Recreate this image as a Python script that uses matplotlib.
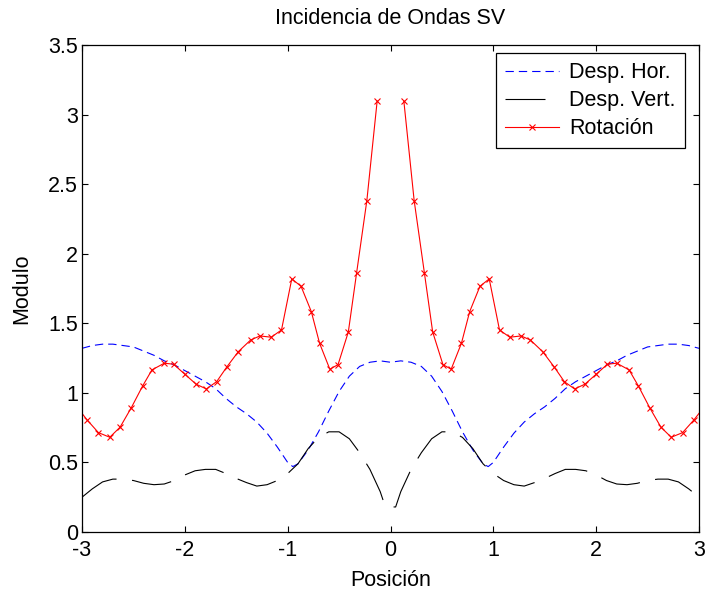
import numpy as np
import matplotlib
matplotlib.use("Agg")
import matplotlib.pyplot as plt

# Desp. Hor. (blue dashed)
x_hor = [-3.0, -2.9, -2.8, -2.7, -2.6, -2.5, -2.4, -2.3, -2.2, -2.1, -2.0,
         -1.9, -1.8, -1.7, -1.6, -1.5, -1.4, -1.3, -1.2, -1.1, -1.0, -0.95,
         -0.9, -0.8, -0.7, -0.6, -0.5, -0.4, -0.3, -0.2, -0.1, 0.0,
         0.1, 0.2, 0.3, 0.4, 0.5, 0.6, 0.7, 0.8, 0.9, 0.95, 1.0, 1.1, 1.2,
         1.3, 1.4, 1.5, 1.6, 1.7, 1.8, 1.9, 2.0, 2.1, 2.2, 2.3, 2.4, 2.5,
         2.6, 2.7, 2.8, 2.9, 3.0]
y_hor = [1.32, 1.34, 1.35, 1.35, 1.34, 1.33, 1.30, 1.27, 1.23, 1.20, 1.16,
         1.12, 1.08, 1.03, 0.96, 0.90, 0.85, 0.79, 0.71, 0.61, 0.50, 0.47,
         0.49, 0.59, 0.72, 0.87, 1.01, 1.12, 1.19, 1.22, 1.23, 1.22,
         1.23, 1.22, 1.19, 1.12, 1.01, 0.87, 0.72, 0.59, 0.49, 0.47, 0.50,
         0.61, 0.71, 0.79, 0.85, 0.90, 0.96, 1.03, 1.08, 1.12, 1.16, 1.20,
         1.23, 1.27, 1.30, 1.33, 1.34, 1.35, 1.35, 1.34, 1.32]

# Desp. Vert. (black long dash)
x_ver = [-3.0, -2.9, -2.8, -2.7, -2.6, -2.5, -2.4, -2.3, -2.2, -2.1, -2.0,
         -1.9, -1.8, -1.7, -1.6, -1.5, -1.4, -1.3, -1.2, -1.1, -1.0, -0.9,
         -0.8, -0.7, -0.6, -0.5, -0.4, -0.3, -0.2, -0.1, -0.05,
         0.05, 0.1, 0.2, 0.3, 0.4, 0.5, 0.6, 0.7, 0.8, 0.9, 1.0, 1.1, 1.2,
         1.3, 1.4, 1.5, 1.6, 1.7, 1.8, 1.9, 2.0, 2.1, 2.2, 2.3, 2.4, 2.5,
         2.6, 2.7, 2.8, 2.9, 3.0]
y_ver = [0.25, 0.31, 0.36, 0.38, 0.38, 0.37, 0.35, 0.34, 0.345, 0.37, 0.41,
         0.44, 0.45, 0.45, 0.42, 0.385, 0.355, 0.33, 0.34, 0.37, 0.42, 0.49,
         0.60, 0.68, 0.72, 0.72, 0.67, 0.57, 0.45, 0.29, 0.18,
         0.18, 0.29, 0.45, 0.57, 0.67, 0.72, 0.72, 0.68, 0.60, 0.49, 0.42,
         0.37, 0.34, 0.33, 0.355, 0.385, 0.42, 0.45, 0.45, 0.44, 0.41, 0.37,
         0.345, 0.34, 0.35, 0.37, 0.38, 0.38, 0.36, 0.31, 0.25]

# Rotacion (red with x markers), gap at the centre
x_rot = [-3.05, -2.95, -2.84, -2.73, -2.63, -2.52, -2.41, -2.32, -2.20, -2.11,
         -2.00, -1.89, -1.79, -1.69, -1.59, -1.48, -1.36, -1.27, -1.16,
         -1.06, -0.96, -0.87, -0.77, -0.69, -0.59, -0.51, -0.41, -0.33,
         -0.23, -0.13, 0.0,
         0.13, 0.23, 0.33, 0.41, 0.51, 0.59, 0.69, 0.77, 0.87, 0.96, 1.06,
         1.16, 1.27, 1.36, 1.48, 1.59, 1.69, 1.79, 1.89, 2.00, 2.11, 2.20,
         2.32, 2.41, 2.52, 2.63, 2.73, 2.84, 2.95, 3.05]
y_rot = [0.90, 0.805, 0.714, 0.681, 0.753, 0.894, 1.050, 1.165, 1.213, 1.206,
         1.134, 1.062, 1.028, 1.081, 1.188, 1.296, 1.380, 1.409, 1.400,
         1.452, 1.819, 1.766, 1.584, 1.357, 1.170, 1.203, 1.438, 1.860,
         2.382, 3.096, np.nan,
         3.096, 2.382, 1.860, 1.438, 1.203, 1.170, 1.357, 1.584, 1.766,
         1.819, 1.452, 1.400, 1.409, 1.380, 1.296, 1.188, 1.081, 1.028,
         1.062, 1.134, 1.206, 1.213, 1.165, 1.050, 0.894, 0.753, 0.681,
         0.714, 0.805, 0.90]

y_ticks = [0, 0.5, 1, 1.5, 2, 2.5, 3, 3.5]
y_tick_labels = ["0", "0.5", "1", "1.5", "2", "2.5", "3", "3.5"]
x_ticks = [-3, -2, -1, 0, 1, 2, 3]
x_tick_labels = ["-3", "-2", "-1", "0", "1", "2", "3"]

plt.rcParams['font.family'] = ['Liberation Sans', 'DejaVu Sans']
fs = 15.5

fig = plt.figure(figsize=(7.22, 5.92), dpi=100)
ax = fig.add_axes([82 / 722, 60 / 592, 617 / 722, 487 / 592])

ax.plot(x_hor, y_hor, color="blue", lw=0.8, dashes=(7.5, 4.5),
        label="Desp. Hor.")
ax.plot(x_ver, y_ver, color="black", lw=0.8, dashes=(36, 14),
        label="Desp. Vert.")
ax.plot(x_rot, y_rot, color="red", lw=0.8, marker="x", markersize=5,
        markeredgewidth=0.8, label="Rotación")

ax.set_xlim(-3, 3)
ax.set_ylim(0, 3.5)
ax.set_xticks(x_ticks)
ax.set_xticklabels(x_tick_labels)
ax.set_yticks(y_ticks)
ax.set_yticklabels(y_tick_labels)
ax.tick_params(direction="in", length=4.5, width=0.8, top=True, right=True,
               labelsize=fs)
ax.tick_params(axis="x", pad=6)
ax.tick_params(axis="y", pad=3)
for s in ax.spines.values():
    s.set_linewidth(0.9)

ax.set_title("Incidencia de Ondas SV", fontsize=fs, pad=15)
ax.set_xlabel("Posición", fontsize=fs, labelpad=6)
ax.set_ylabel("Modulo", fontsize=fs, labelpad=11)

leg = ax.legend(loc="upper right", bbox_to_anchor=(0.977, 0.983),
                borderaxespad=0, fontsize=fs, fancybox=False,
                edgecolor="black", framealpha=1, handlelength=2.5,
                handletextpad=0.5, labelspacing=0.32, borderpad=0.42)
leg.get_frame().set_linewidth(0.9)

fig.savefig("out.png", dpi=100)
